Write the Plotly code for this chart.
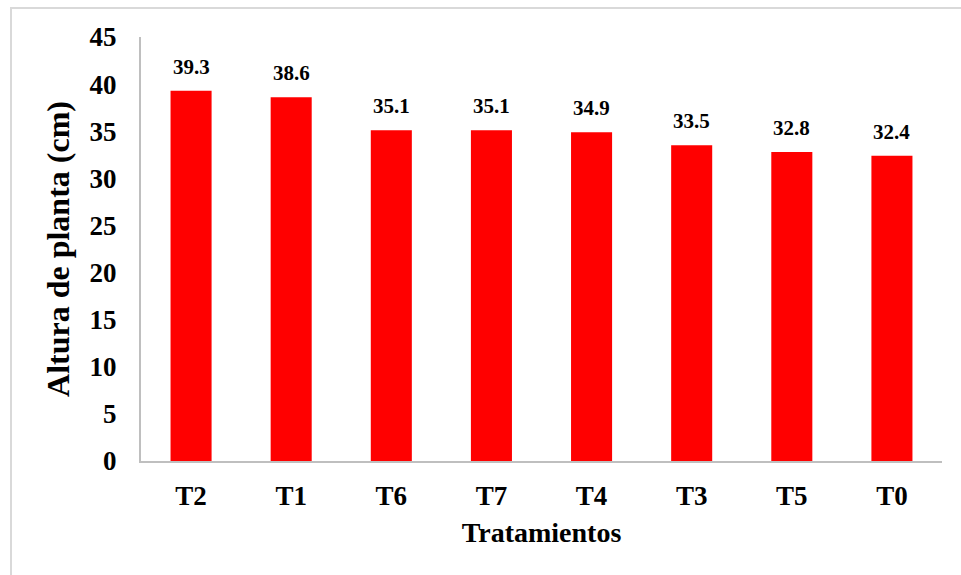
import plotly.graph_objects as go

categories = ["T2", "T1", "T6", "T7", "T4", "T3", "T5", "T0"]
values = [39.3, 38.6, 35.1, 35.1, 34.9, 33.5, 32.8, 32.4]
y_ticks = [0, 5, 10, 15, 20, 25, 30, 35, 40, 45]

FONT = "Liberation Serif"
L, R, T, B = 141, 19, 37, 114
W, H = 961, 575
pw, ph = W - L - R, H - T - B

fig = go.Figure(go.Bar(x=categories, y=values, marker=dict(color="#ff0000", line=dict(width=0)),
                       width=0.41, hoverinfo="skip"))

for c, v in zip(categories, values):
    fig.add_annotation(x=c, y=v, text=f"<b>{v:.1f}</b>", showarrow=False, yshift=24,
                       font=dict(family=FONT, size=21, color="black"))

# outer chart border (left and top visible)
def px(xp):
    return (xp - L) / pw
def py(yp):
    return (H - B - yp) / ph

fig.add_shape(type="rect", xref="paper", yref="paper", x0=px(11), x1=px(990), y0=py(8), y1=py(600),
              line=dict(color="#d9d9d9", width=2), fillcolor="rgba(0,0,0,0)", layer="below")

fig.update_layout(
    width=W, height=H, margin=dict(l=L, r=R, t=T, b=B),
    paper_bgcolor="white", plot_bgcolor="white", showlegend=False,
    font=dict(family=FONT, color="black"),
    xaxis=dict(showline=True, linecolor="#bfbfbf", linewidth=2, ticks="", showgrid=False,
               tickfont=dict(family=FONT, size=27), ticklabelstandoff=10,
               title=dict(text="<b>Tratamientos</b>", font=dict(family=FONT, size=28), standoff=12)),
    yaxis=dict(range=[0, 45], tickvals=y_ticks, ticktext=[f"<b>{t}</b>" for t in y_ticks],
               showline=True, linecolor="#bfbfbf", linewidth=2, ticks="", showgrid=False, zeroline=False,
               tickfont=dict(family=FONT, size=27), ticklabelstandoff=17,
               title=dict(text="<b>Altura de planta (cm)</b>", font=dict(family=FONT, size=32), standoff=10)),
)
fig.update_xaxes(tickvals=categories, ticktext=[f"<b>{c}</b>" for c in categories])

fig.write_html("out.html")
